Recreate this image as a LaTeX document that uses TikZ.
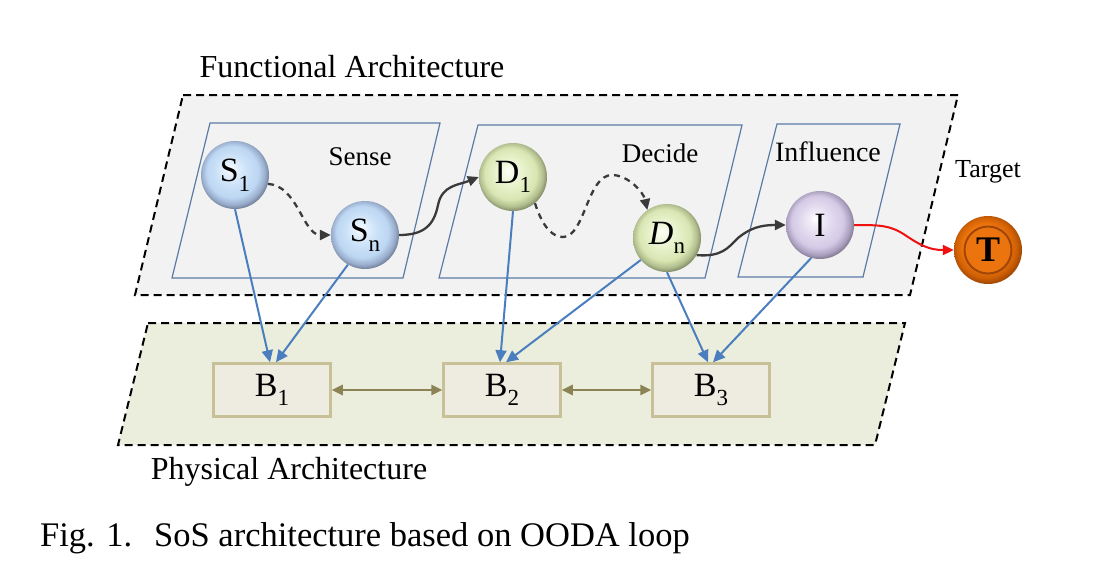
\documentclass[tikz,border=0pt]{standalone}
\usepackage{fontspec}
\setmainfont{Liberation Serif}
\usetikzlibrary{arrows.meta}
\definecolor{funcfill}{HTML}{F2F2F2}
\definecolor{physfill}{HTML}{EBEEDC}
\definecolor{framec}{HTML}{5B7BA6}
\definecolor{bluearrow}{HTML}{4A7EBE}
\definecolor{olivearrow}{HTML}{8C8354}
\definecolor{bborder}{HTML}{C8C096}
\definecolor{bfill}{HTML}{EEEBE1}
\definecolor{darkc}{HTML}{3A3A3A}
\definecolor{redc}{HTML}{F01010}
\definecolor{orangec}{HTML}{EC740E}
\definecolor{orangedk}{HTML}{A24608}
\pgfdeclareradialshading{sball}{\pgfpoint{-4bp}{5bp}}{rgb(0bp)=(0.99,0.995,1); rgb(5bp)=(0.89,0.94,0.99); rgb(12bp)=(0.79,0.88,0.97); rgb(19bp)=(0.74,0.84,0.95); rgb(23.5bp)=(0.60,0.68,0.80); rgb(27bp)=(0.40,0.45,0.54); rgb(35bp)=(0.30,0.33,0.39)}
\pgfdeclareradialshading{dball}{\pgfpoint{-4bp}{5bp}}{rgb(0bp)=(0.99,1,0.97); rgb(5bp)=(0.95,0.97,0.88); rgb(12bp)=(0.90,0.94,0.78); rgb(19bp)=(0.85,0.90,0.70); rgb(23.5bp)=(0.69,0.74,0.55); rgb(27bp)=(0.46,0.49,0.37); rgb(35bp)=(0.32,0.34,0.27)}
\pgfdeclareradialshading{iball}{\pgfpoint{-4bp}{5bp}}{rgb(0bp)=(1,0.995,1); rgb(5bp)=(0.94,0.92,0.97); rgb(12bp)=(0.88,0.85,0.93); rgb(19bp)=(0.83,0.79,0.90); rgb(23.5bp)=(0.67,0.63,0.75); rgb(27bp)=(0.46,0.43,0.52); rgb(35bp)=(0.32,0.30,0.36)}
\pgfdeclareradialshading{tball}{\pgfpoint{-4bp}{5bp}}{rgb(0bp)=(1,0.70,0.35); rgb(6bp)=(0.96,0.52,0.10); rgb(16bp)=(0.93,0.46,0.05); rgb(22bp)=(0.82,0.38,0.02); rgb(27bp)=(0.58,0.26,0.02); rgb(35bp)=(0.44,0.20,0.02)}
\newcommand\lsub[1]{\raisebox{-0.28em}{\fontsize{23}{25}\selectfont #1}}
\tikzset{
  dashframe/.style={draw=black, line width=2pt, dash pattern=on 8pt off 5pt},
  groupframe/.style={draw=framec, line width=1.2pt},
  ball/.style={circle, minimum size=68pt, inner sep=0pt, font=\fontsize{34}{36}\selectfont},
  bbox/.style={draw=bborder, fill=bfill, line width=2.5pt, minimum width=117pt, minimum height=53pt, inner sep=0pt, font=\fontsize{34}{36}\selectfont},
  grouplbl/.style={font=\fontsize{27}{30}\selectfont},
  bluearr/.style={draw=bluearrow, line width=2pt, -{Triangle[length=12pt,width=11pt]}},
  olivearr/.style={draw=olivearrow, line width=2.5pt, {Triangle[length=11pt,width=10pt]}-{Triangle[length=11pt,width=10pt]}},
  curvearr/.style={draw=darkc, line width=2.3pt, -{Triangle[length=11pt,width=10pt]}},
}
\begin{document}
\begin{tikzpicture}[x=1pt,y=-1pt]
\useasboundingbox (0,0) rectangle (1119,571);
% layers
\draw[dashframe, fill=funcfill] (183,95) -- (958,95) -- (910,295) -- (135,295) -- cycle;
\draw[dashframe, fill=physfill] (148,323) -- (905,323) -- (875,445) -- (118,445) -- cycle;
\draw[groupframe] (210,123) -- (440,123) -- (403,278) -- (172,278) -- cycle;
\draw[groupframe] (478,125) -- (742,125) -- (705,278) -- (439,278) -- cycle;
\draw[groupframe] (777,124) -- (900,124) -- (863,277) -- (738,277) -- cycle;
% titles
\node[font=\fontsize{32}{34}\selectfont] (ftitle) at (352,67) {Functional Architecture};
\node[font=\fontsize{32}{34}\selectfont] (ptitle) at (289,472) {Physical Architecture};
\node[font=\fontsize{34.5}{36}\selectfont, anchor=west, inner sep=0pt] (cap) at (40,538) {Fig. 1.\hspace{22pt}SoS architecture based on OODA loop};
\node[grouplbl] (lsense) at (360,157) {Sense};
\node[grouplbl] (ldecide) at (660,153) {Decide};
\node[grouplbl, font=\fontsize{28}{30}\selectfont] (linf) at (828,152) {Influence};
\node[font=\fontsize{26}{28}\selectfont] (ltarget) at (988,172) {Target};
% balls
\node[ball, shading=sball] (S1) at (235,175) {S\lsub{1}};
\node[ball, shading=sball] (Sn) at (365,235) {S\lsub{n}};
\node[ball, shading=dball] (D1) at (513,177) {D\lsub{1}};
\node[ball, shading=dball] (Dn) at (667,238) {\textit{D}\lsub{n}};
\node[ball, shading=iball] (I) at (820,225) {I};
\node[ball, shading=tball] (T) at (988,250) {};
\node[circle, minimum size=47pt, inner sep=0pt, draw=orangedk, line width=2pt, fill=orangec, font=\bfseries\fontsize{36}{38}\selectfont] (Tin) at (T.center) {T};
% physical boxes
\node[bbox] (B1) at (272,390) {B\lsub{1}};
\node[bbox] (B2) at (502,390) {B\lsub{2}};
\node[bbox] (B3) at (711,390) {B\lsub{3}};
% blue arrows
\draw[bluearr] (S1.south) -- ([xshift=-2pt]B1.north);
\draw[bluearr] (Sn.-120) -- ([xshift=4pt]B1.north);
\draw[bluearr] (D1.south) -- ([xshift=-2pt]B2.north);
\draw[bluearr] (Dn.-140) -- ([xshift=4pt]B2.north);
\draw[bluearr] (Dn.south) -- ([xshift=-3pt]B3.north);
\draw[bluearr] (I.-105) -- ([xshift=2pt]B3.north);
% olive double arrows
\draw[olivearr] (B1.east) -- (B2.west);
\draw[olivearr] (B2.east) -- (B3.west);
% curved connectors
\draw[curvearr, dash pattern=on 6pt off 5pt] (S1.-15) .. controls +(30,2) and +(-28,0) .. (Sn.west);
\coordinate (w1) at (438,205);
\draw[curvearr] (Sn.east) .. controls +(25,0) and +(-4,20) .. (w1) .. controls +(4,-20) and +(-20,8) .. (D1.west);
\coordinate (w2) at (563,237);
\coordinate (w3) at (612,175);
\draw[curvearr, dash pattern=on 6pt off 5pt] (D1.-50) .. controls +(8,25) and +(-10,0) .. (w2) .. controls +(22,0) and +(-25,0) .. (w3) .. controls +(16,0) and +(-4,-18) .. (Dn.125);
\coordinate (w4) at (738,238);
\draw[curvearr] (Dn.-30) .. controls +(25,2) and +(-10,10) .. (w4) .. controls +(12,-10) and +(-25,0) .. (I.west);
\coordinate (w5) at (905,235);
\draw[draw=redc, line width=2pt, -{Triangle[length=11pt,width=10pt]}] (I.east) .. controls +(25,0) and +(-15,-10) .. (w5) .. controls +(15,10) and +(-25,0) .. (T.west);
\end{tikzpicture}
\end{document}
